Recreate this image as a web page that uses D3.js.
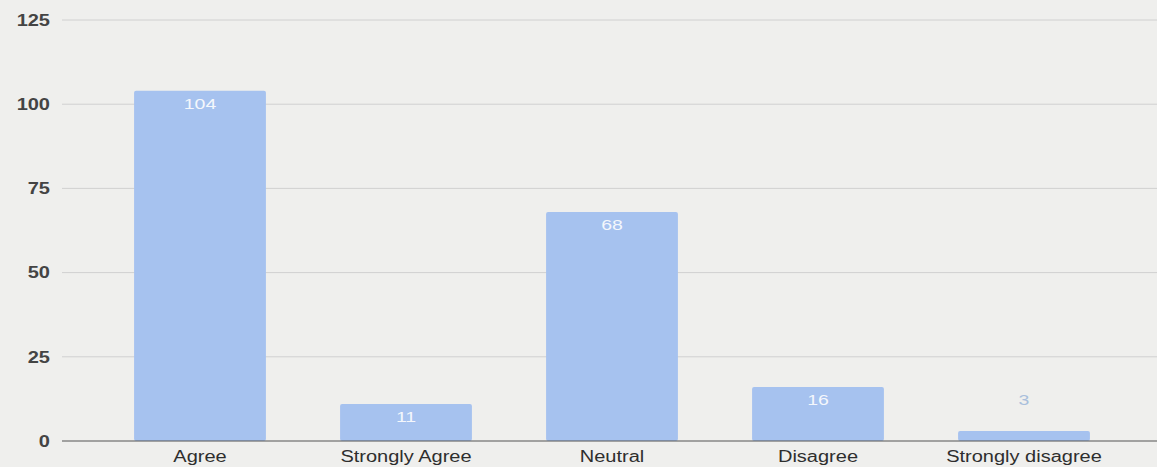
<!DOCTYPE html>
<html><head><meta charset="utf-8">
<script src="https://cdn.jsdelivr.net/npm/d3@7"></script>
<style>
html,body{margin:0;padding:0;background:#efefed;}
svg{display:block;font-family:"Liberation Sans",Arial,sans-serif;}
</style></head>
<body><svg id="chart" width="1157" height="467"></svg>
<script>
const categories = ["Agree","Strongly Agree","Neutral","Disagree","Strongly disagree"];
const values = [104, 11, 68, 16, 3];
const yTicks = [0, 25, 50, 75, 100, 125];

const svg = d3.select("#chart");
const W = 1157, H = 467;
const m = {left: 62, right: 0, top: 20, bottom: 26};
const baseY = H - m.bottom;

svg.append("rect").attr("width", W).attr("height", H).attr("fill", "#efefed");

const x = d3.scaleBand().domain(categories).range([97, 1127]).paddingInner(0.36).paddingOuter(0.18);
const y = d3.scaleLinear().domain([0, 125]).range([baseY, m.top]);

// gridlines
svg.append("g").selectAll("line").data(yTicks.filter(d => d > 0)).join("line")
  .attr("x1", m.left).attr("x2", W)
  .attr("y1", d => y(d)).attr("y2", d => y(d))
  .attr("stroke", "#d0d0d0").attr("stroke-width", 1);

// y axis
const yAxis = d3.axisLeft(y).tickValues(yTicks).tickSize(0).tickPadding(12);
const gy = svg.append("g").attr("transform", `translate(${m.left},0)`).call(yAxis);
gy.select(".domain").remove();
gy.selectAll(".tick text")
  .attr("x", null).attr("dy", null)
  .attr("text-anchor", "end")
  .attr("dominant-baseline", "central")
  .attr("font-size", 16).attr("font-weight", "bold").attr("fill", "#444")
  .attr("font-family", "Liberation Sans, Arial, sans-serif")
  .attr("transform", "translate(-12,0) scale(1.25,1)");

// bars
svg.append("g").selectAll("rect").data(values).join("rect")
  .attr("x", (d, i) => x(categories[i]))
  .attr("width", x.bandwidth())
  .attr("y", d => y(d))
  .attr("height", d => baseY - y(d))
  .attr("rx", 2)
  .attr("fill", "#a6c2ef");

// value labels
svg.append("g").selectAll("text").data(values).join("text")
  .each(function(d, i) {
    const cx = x(categories[i]) + x.bandwidth() / 2;
    const ty = (baseY - y(d) > 30) ? y(d) + 18 : y(16) + 18;
    d3.select(this).attr("transform", `translate(${cx},${ty}) scale(1.3,1)`);
  })
  .attr("text-anchor", "middle")
  .attr("font-size", 15)
  .attr("fill", d => (baseY - y(d) > 30) ? "#f4f7fc" : "#a9bfdc")
  .text(d => d);

// x axis
const xAxis = d3.axisBottom(x).tickSize(0).tickPadding(10);
const gx = svg.append("g").attr("transform", `translate(0,${baseY})`).call(xAxis);
gx.select(".domain").remove();
gx.selectAll(".tick text")
  .attr("y", null).attr("dy", null)
  .attr("text-anchor", "middle")
  .attr("font-size", 16).attr("fill", "#2e2e2e")
  .attr("font-family", "Liberation Sans, Arial, sans-serif")
  .attr("transform", "translate(0,21) scale(1.25,1)");
svg.append("line").attr("x1", m.left).attr("x2", W).attr("y1", baseY).attr("y2", baseY)
  .attr("stroke", "#555").attr("stroke-width", 1.2);
</script></body></html>
